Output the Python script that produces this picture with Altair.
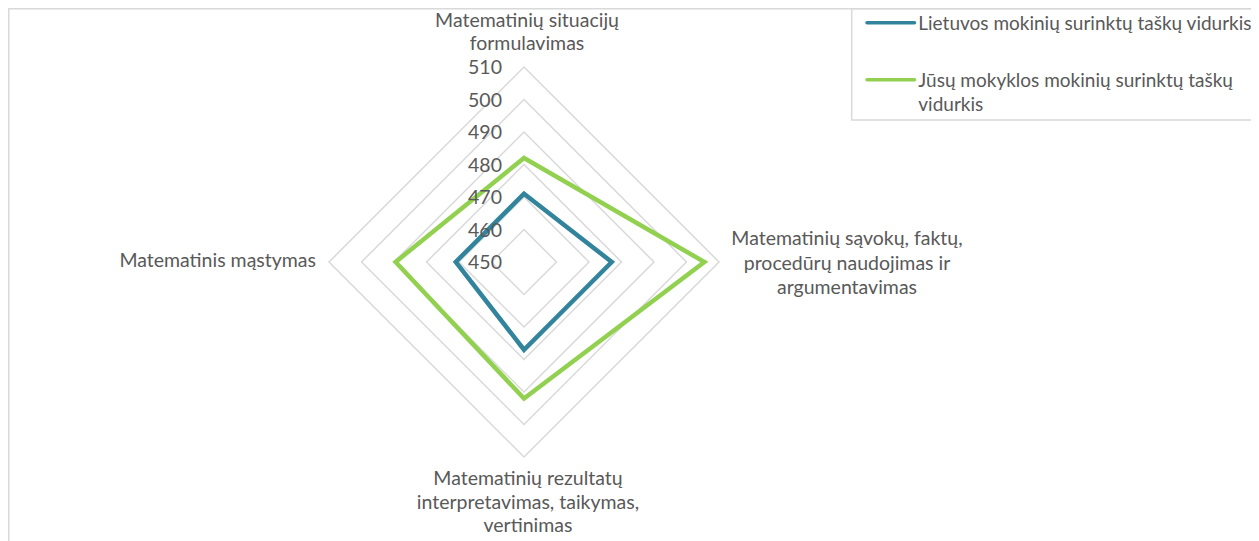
import altair as alt
import pandas as pd

# ---- data ----
category_lines = [
    "Matematinių situacijų\nformulavimas",
    "Matematinių sąvokų, faktų,\nprocedūrų naudojimas ir\nargumentavimas",
    "Matematinių rezultatų\ninterpretavimas, taikymas,\nvertinimas",
    "Matematinis mąstymas",
]
series_names = [
    "Lietuvos mokinių surinktų taškų vidurkis",
    "Jūsų mokyklos mokinių surinktų taškų vidurkis",
]
legend_lines = [
    "Lietuvos mokinių surinktų taškų vidurkis",
    "Jūsų mokyklos mokinių surinktų taškų\nvidurkis",
]
lt_values = [471, 477, 477, 471]
school_values = [482, 505.5, 492, 489.5]
ring_ticks = [450, 460, 470, 480, 490, 500, 510]

colors = ["#31849B", "#92D050"]
FONT = "Lato"
TXT = "#595959"
FS = 19.5
R0 = ring_ticks[0]
RMAX = ring_ticks[-1] - R0

# ---- tables built from the arrays ----
series_df = pd.DataFrame(
    [{"series": series_names[0], "idx": i, "value": v} for i, v in enumerate(lt_values)]
    + [{"series": series_names[1], "idx": i, "value": v} for i, v in enumerate(school_values)]
)
ring_df = pd.DataFrame(
    [{"ring": t, "idx": i, "value": t} for t in ring_ticks[1:] for i in range(4)]
)
tick_df = pd.DataFrame({"value": ring_ticks, "label": [str(t) for t in ring_ticks]})
label_df = pd.DataFrame({"idx": list(range(4)), "label": category_lines, "value": [ring_ticks[-1]] * 4})
one = pd.DataFrame({"a": [0]})

xs = alt.Scale(domain=[-RMAX, RMAX], nice=False, zero=False)
ys = alt.Scale(domain=[-RMAX, RMAX], nice=False, zero=False)
X = alt.X("px:Q", scale=xs, axis=None)
Y = alt.Y("py:Q", scale=ys, axis=None)


def with_polar(ch):
    return ch.transform_calculate(
        px=f"(datum.value - {R0}) * sin(datum.idx * PI / 2)",
        py=f"(datum.value - {R0}) * cos(datum.idx * PI / 2)",
    )


rings = with_polar(
    alt.Chart(ring_df).mark_line(interpolate="linear-closed", stroke="#D9D9D9", strokeWidth=1.5)
).encode(x=X, y=Y, detail="ring:N", order="idx:Q")

lines = with_polar(
    alt.Chart(series_df).mark_line(interpolate="linear-closed", strokeWidth=4.5, strokeJoin="miter")
).encode(
    x=X,
    y=Y,
    color=alt.Color("series:N", scale=alt.Scale(domain=series_names, range=colors), legend=None),
    detail="series:N",
    order="idx:Q",
)

ticks = alt.Chart(tick_df).transform_calculate(
    px="0", py=f"datum.value - {R0}"
).mark_text(align="right", baseline="alphabetic", dx=-22, dy=7, font=FONT, fontSize=FS, color=TXT).encode(
    x=X, y=Y, text="label:N"
)

label_specs = [
    dict(align="center", dx=3, dy=-40, lineHeight=23),
    dict(align="center", dx=128, dy=-17, lineHeight=24.5),
    dict(align="center", dx=4, dy=28, lineHeight=23.5),
    dict(align="right", dx=-13, dy=5, lineHeight=24),
]
labels = []
for k, sp in enumerate(label_specs):
    labels.append(
        with_polar(alt.Chart(label_df).transform_filter(f"datum.idx == {k}"))
        .mark_text(baseline="alphabetic", lineBreak="\n", font=FONT, fontSize=FS, color=TXT, **sp)
        .encode(x=X, y=Y, text="label:N")
    )

# chart border and legend (decorations in pixel space)
border = alt.Chart(one).mark_rect(filled=False, stroke="#D9D9D9", strokeWidth=1.5).encode(
    x=alt.value(-320.2), x2=alt.value(1000), y=alt.value(-58.2), y2=alt.value(700)
)
legend_box = alt.Chart(one).mark_rect(filled=False, stroke="#D9D9D9", strokeWidth=1.5).encode(
    x=alt.value(522.7), x2=alt.value(1000), y=alt.value(-58.2), y2=alt.value(53)
)
leg_y = [-44.3, 12.8]
leg_layers = []
for i in range(2):
    leg_layers.append(
        alt.Chart(one).mark_rule(strokeWidth=3.5, strokeCap="round", color=colors[i]).encode(
            x=alt.value(538), x2=alt.value(585.5), y=alt.value(leg_y[i])
        )
    )
    leg_layers.append(
        alt.Chart(one).mark_text(
            align="left", baseline="alphabetic", lineBreak="\n", lineHeight=24, font=FONT,
            fontSize=19, color=TXT, text=legend_lines[i]
        ).encode(x=alt.value(589.3), y=alt.value(leg_y[i] + 6.8))
    )

chart = alt.layer(border, rings, lines, ticks, *labels, legend_box, *leg_layers).properties(
    width=390,
    height=390,
    autosize=alt.AutoSizeParams(type="none"),
    padding={"left": 321, "top": 59, "right": 532, "bottom": 84},
    background="white",
).configure_view(strokeWidth=0)

chart.save("out.html", embed_options={"renderer": "svg", "actions": False})
